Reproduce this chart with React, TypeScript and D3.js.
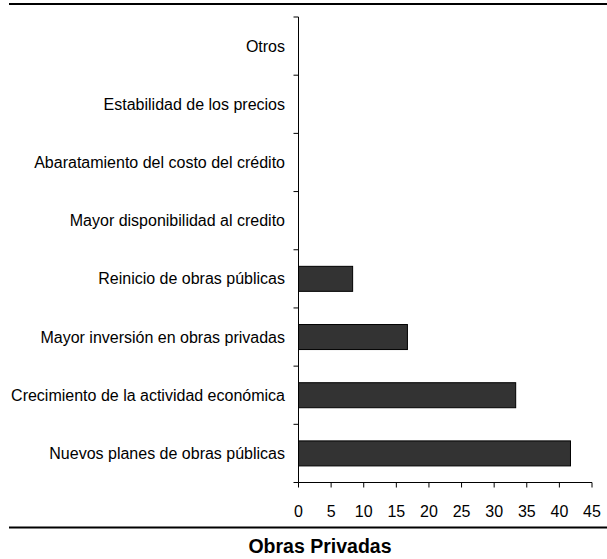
import React from "react";
import * as d3 from "d3";

const categories = [
  "Otros",
  "Estabilidad de los precios",
  "Abaratamiento del costo del crédito",
  "Mayor disponibilidad al credito",
  "Reinicio de obras públicas",
  "Mayor inversión en obras privadas",
  "Crecimiento de la actividad económica",
  "Nuevos planes de obras públicas",
];
const values = [0, 0, 0, 0, 8.3, 16.7, 33.3, 41.7];
const xTicks = [0, 5, 10, 15, 20, 25, 30, 35, 40, 45];
const title = "Obras Privadas";

export default function App() {
  const W = 607, H = 559;
  const axisX = 298.5, top = 17, bottom = 482.5;
  const x = d3.scaleLinear().domain([0, 45]).range([axisX, 592]);
  const y = d3.scaleBand().domain(categories).range([top, bottom]).paddingInner(0.57).paddingOuter(0.285);
  const bandStep = (bottom - top) / categories.length;
  const font = "'Liberation Sans', Arial, sans-serif";
  return (
    <svg width={W} height={H} style={{ position: "absolute", left: 0, top: 0 }}>
      <rect width={W} height={H} fill="#fff" />
      <line x1={9} x2={607} y1={4} y2={4} stroke="#000" strokeWidth={2} />
      {categories.map((c, i) => {
        const v = values[i];
        return (
          <g key={c}>
            {v > 0 && (
              <rect x={x(0)} y={y(c)!} width={x(v) - x(0)} height={y.bandwidth()} fill="#333" stroke="#000" strokeWidth={1} />
            )}
            <text x={285} y={top + bandStep * (i + 0.5)} dy="0.35em" textAnchor="end" fontFamily={font} fontSize={16} fill="#000">{c}</text>
          </g>
        );
      })}
      {d3.range(categories.length + 1).map((i) => (
        <line key={i} x1={axisX - 5} x2={axisX} y1={top + bandStep * i} y2={top + bandStep * i} stroke="#000" />
      ))}
      <line x1={axisX} x2={axisX} y1={top} y2={bottom} stroke="#000" />
      <line x1={axisX} x2={x(45)} y1={bottom} y2={bottom} stroke="#000" />
      {xTicks.map((t) => (
        <g key={t}>
          <line x1={x(t)} x2={x(t)} y1={bottom} y2={bottom + 5} stroke="#000" />
          <text x={x(t)} y={516.5} textAnchor="middle" fontFamily={font} fontSize={16} fill="#000">{t}</text>
        </g>
      ))}
      <line x1={9} x2={607} y1={527.5} y2={527.5} stroke="#000" strokeWidth={2} />
      <text x={320} y={553} textAnchor="middle" fontFamily={font} fontSize={19.5} fontWeight="bold" fill="#000">{title}</text>
    </svg>
  );
}
